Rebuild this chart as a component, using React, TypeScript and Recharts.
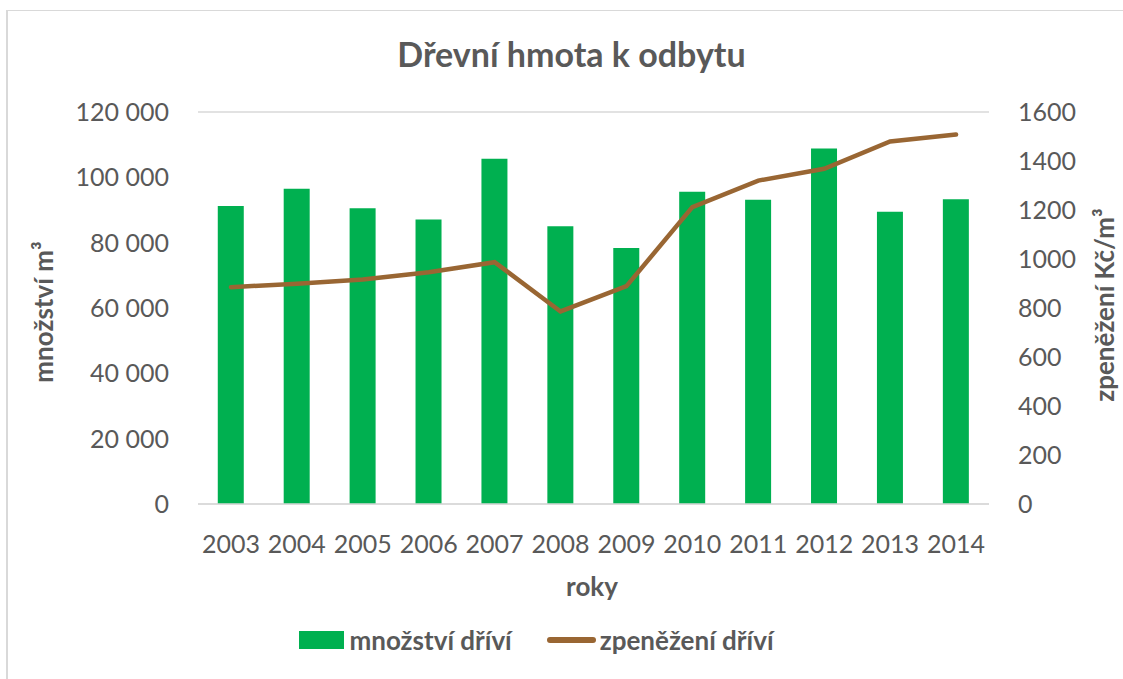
import { Bar, CartesianGrid, ComposedChart, Legend, Line, XAxis, YAxis } from "recharts";

const years = ["2003", "2004", "2005", "2006", "2007", "2008", "2009", "2010", "2011", "2012", "2013", "2014"];
const volume = [91200, 96500, 90500, 87100, 105700, 85000, 78400, 95600, 93100, 108800, 89500, 93300];
const price = [885, 899, 916, 946, 987, 786, 889, 1212, 1320, 1368, 1480, 1508];
const leftTicks = [0, 20000, 40000, 60000, 80000, 100000, 120000];
const rightTicks = [0, 200, 400, 600, 800, 1000, 1200, 1400, 1600];

const data = years.map((y, i) => ({ year: y, volume: volume[i], price: price[i] }));

const TXT = "#595959";
const FONT = "Lato, 'Open Sans', sans-serif";

const fmt = (v: number) => String(v).replace(/\B(?=(\d{3})+(?!\d))/g, " ");

const LeftLabel = () => (
  <text
    x={0}
    y={0}
    transform="translate(53, 312) rotate(-90)"
    textAnchor="middle"
    fill={TXT}
    fontFamily={FONT}
    fontWeight={700}
    fontSize={26}
  >
    množství m³
  </text>
);

const RightLabel = () => (
  <text
    x={0}
    y={0}
    transform="translate(1114, 305) rotate(-90)"
    textAnchor="middle"
    fill={TXT}
    fontFamily={FONT}
    fontWeight={700}
    fontSize={26}
  >
    zpeněžení Kč/m³
  </text>
);

const BottomLabel = () => (
  <text x={592} y={596} textAnchor="middle" fill={TXT} fontFamily={FONT} fontWeight={700} fontSize={26}>
    roky
  </text>
);

const renderLegend = () => (
  <div
    style={{
      display: "flex",
      alignItems: "center",
      justifyContent: "center",
      fontFamily: FONT,
      fontWeight: 700,
      fontSize: 26,
      color: TXT,
      height: 50,
      paddingRight: 50,
    }}
  >
    <span style={{ display: "inline-block", width: 45, height: 18, background: "#00B050", marginRight: 5 }} />
    <span>množství dříví</span>
    <span
      style={{
        display: "inline-block",
        width: 49,
        height: 6,
        borderRadius: 3,
        background: "#996633",
        marginLeft: 35,
        marginRight: 4,
      }}
    />
    <span>zpeněžení dříví</span>
  </div>
);

export default function App() {
  return (
    <div
      style={{
        position: "fixed",
        left: 0,
        top: 0,
        width: 1123,
        height: 679,
        overflow: "hidden",
        background: "#fff",
      }}
    >
      <div
        style={{
          position: "absolute",
          left: 6,
          top: 10,
          width: 1200,
          height: 800,
          borderLeft: "2px solid #d9d9d9",
          borderTop: "1px solid #d9d9d9",
        }}
      />
      <div
        style={{
          position: "absolute",
          left: 0,
          width: 1143,
          top: 33,
          textAlign: "center",
          fontFamily: FONT,
          fontWeight: 700,
          fontSize: 34,
          color: TXT,
        }}
      >
        Dřevní hmota k odbytu
      </div>
      <div style={{ position: "absolute", left: 0, top: 0 }}>
        <ComposedChart
          width={1123}
          height={679}
          data={data}
          margin={{ top: 112, right: 0, bottom: 14, left: 0 }}
          barCategoryGap="30%"
        >
          <CartesianGrid vertical={false} stroke="#d9d9d9" strokeWidth={1.3} />
          <XAxis
            dataKey="year"
            height={111}
            tickLine={false}
            tickSize={0}
            tickMargin={31}
            axisLine={{ stroke: "#d9d9d9", strokeWidth: 1.3 }}
            tick={{ fill: TXT, fontSize: 25, fontFamily: FONT }}
            interval={0}
            label={<BottomLabel />}
          />
          <YAxis
            yAxisId="left"
            width={198}
            domain={[0, 120000]}
            ticks={leftTicks}
            tickFormatter={fmt}
            axisLine={false}
            tickLine={false}
            tickSize={0}
            tickMargin={29}
            tick={{ fill: TXT, fontSize: 25, fontFamily: FONT }}
            label={<LeftLabel />}
          />
          <YAxis
            yAxisId="right"
            orientation="right"
            width={134}
            domain={[0, 1600]}
            ticks={rightTicks}
            axisLine={false}
            tickLine={false}
            tickSize={0}
            tickMargin={29}
            tick={{ fill: TXT, fontSize: 25, fontFamily: FONT }}
            label={<RightLabel />}
          />
          <Legend verticalAlign="bottom" height={50} content={renderLegend} />
          <Bar yAxisId="left" dataKey="volume" name="množství dříví" fill="#00B050" isAnimationActive={false} />
          <Line
            yAxisId="right"
            dataKey="price"
            name="zpeněžení dříví"
            type="linear"
            stroke="#996633"
            strokeWidth={4.5}
            strokeLinecap="round"
            dot={false}
            activeDot={false}
            isAnimationActive={false}
          />
        </ComposedChart>
      </div>
    </div>
  );
}
